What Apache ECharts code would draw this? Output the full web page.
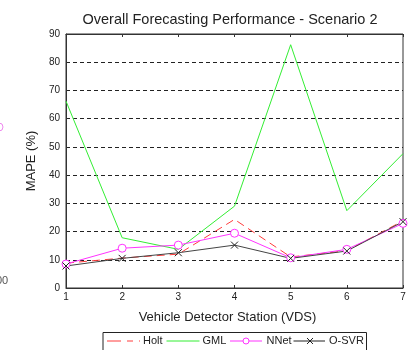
<!DOCTYPE html>
<html>
<head>
<meta charset="utf-8">
<script src="https://cdn.jsdelivr.net/npm/echarts@6/dist/echarts.min.js"></script>
<style>
  html, body { margin: 0; padding: 0; background: #fff; }
  #chart { width: 415px; height: 350px; }
</style>
</head>
<body>
<div id="chart"></div>
<script>
// Detector stations on the x axis
const stations = [1, 2, 3, 4, 5, 6, 7];
// MAPE (%) per forecasting method
const holt = [8.8, 10.6, 12.0, 24.3, 11.0, 13.2, 23.8];
const gml = [66.2, 17.8, 13.7, 29.0, 86.2, 27.4, 47.6];
const nnet = [8.5, 14.1, 15.2, 19.4, 10.7, 13.7, 22.9];
const osvr = [7.8, 10.5, 12.5, 15.2, 10.5, 13.1, 23.5];
const yTicks = [0, 10, 20, 30, 40, 50, 60, 70, 80, 90];

const pairs = arr => stations.map((s, i) => [s, arr[i]]);
const FONT = '"Liberation Sans", Arial, sans-serif';
const crossPath = 'path://M0,0L10,10M10,0L0,10';

const COLORS = { holt: '#ff3c3c', gml: '#33ee33', nnet: '#ff33ff', osvr: '#333' };

// Boxed legend drawn as graphic elements (line samples + markers + labels)
const LY = 341;
const legendGraphics = [
  { type: 'rect', shape: { x: 103, y: 332.5, width: 263.5, height: 30 },
    style: { fill: '#fff', stroke: '#222', lineWidth: 1 }, silent: true },
  // Holt
  { type: 'line', shape: { x1: 107, y1: LY, x2: 140, y2: LY },
    style: { stroke: COLORS.holt, lineWidth: 1, lineDash: [14, 6, 6, 6] }, silent: true },
  { type: 'text', x: 143, y: LY,
    style: { text: 'Holt', font: '11px ' + FONT, fill: '#222', textVerticalAlign: 'middle' }, silent: true },
  // GML
  { type: 'line', shape: { x1: 166.5, y1: LY, x2: 199.5, y2: LY },
    style: { stroke: COLORS.gml, lineWidth: 1 }, silent: true },
  { type: 'text', x: 202.5, y: LY,
    style: { text: 'GML', font: '11px ' + FONT, fill: '#222', textVerticalAlign: 'middle' }, silent: true },
  // NNet
  { type: 'line', shape: { x1: 230, y1: LY, x2: 262, y2: LY },
    style: { stroke: COLORS.nnet, lineWidth: 1 }, silent: true },
  { type: 'circle', shape: { cx: 246, cy: LY, r: 3 },
    style: { fill: '#fff', stroke: COLORS.nnet, lineWidth: 1 }, silent: true },
  { type: 'text', x: 266.5, y: LY,
    style: { text: 'NNet', font: '11px ' + FONT, fill: '#222', textVerticalAlign: 'middle' }, silent: true },
  // O-SVR
  { type: 'line', shape: { x1: 293.5, y1: LY, x2: 325, y2: LY },
    style: { stroke: '#222', lineWidth: 1 }, silent: true },
  { type: 'line', shape: { x1: 307, y1: LY - 3, x2: 313, y2: LY + 3 },
    style: { stroke: '#222', lineWidth: 1 }, silent: true },
  { type: 'line', shape: { x1: 313, y1: LY - 3, x2: 307, y2: LY + 3 },
    style: { stroke: '#222', lineWidth: 1 }, silent: true },
  { type: 'text', x: 329, y: LY,
    style: { text: 'O-SVR', font: '11px ' + FONT, fill: '#222', textVerticalAlign: 'middle' }, silent: true }
];

const chart = echarts.init(document.getElementById('chart'), null, { renderer: 'canvas' });
chart.setOption({
  animation: false,
  backgroundColor: '#fff',
  grid: {
    left: 66, right: 12, top: 34, bottom: 62,
    show: true, borderColor: '#333', borderWidth: 1, backgroundColor: 'transparent'
  },
  xAxis: [{
    type: 'value', min: 1, max: 7, interval: 1,
    name: 'Vehicle Detector Station (VDS)', nameLocation: 'middle', nameGap: 23,
    nameTextStyle: { fontFamily: FONT, fontSize: 13, color: '#222', padding: [0, 14, 0, 0] },
    axisLine: { show: true, lineStyle: { color: '#333', width: 1 } },
    axisTick: { show: true, inside: true, length: 3, lineStyle: { color: '#333' } },
    axisLabel: { fontFamily: FONT, fontSize: 10, color: '#222', margin: 4 },
    splitLine: { show: false }
  }, {
    type: 'value', min: 1, max: 7, interval: 1, position: 'top',
    axisLine: { show: true, lineStyle: { color: '#333', width: 1 } },
    axisTick: { show: true, inside: true, length: 3, lineStyle: { color: '#333' } },
    axisLabel: { show: false },
    splitLine: { show: false }
  }],
  yAxis: {
    type: 'value', min: yTicks[0], max: yTicks[yTicks.length - 1], interval: 10,
    name: 'MAPE (%)', nameLocation: 'middle', nameGap: 20, nameRotate: 90,
    nameTextStyle: { fontFamily: FONT, fontSize: 13, color: '#222' },
    axisLine: { show: true, lineStyle: { color: '#333', width: 1 } },
    axisTick: { show: false },
    axisLabel: { fontFamily: FONT, fontSize: 10, color: '#222', margin: 6 },
    splitLine: { show: true, lineStyle: { color: '#222', width: 1, type: [4, 3] } }
  },
  series: [{
    name: 'Holt', type: 'line', data: pairs(holt),
    symbol: 'none',
    lineStyle: { color: COLORS.holt, width: 1, type: [8, 5] }
  }, {
    name: 'GML', type: 'line', data: pairs(gml),
    symbol: 'none',
    lineStyle: { color: COLORS.gml, width: 1 }
  }, {
    name: 'NNet', type: 'line', data: pairs(nnet),
    symbol: 'circle', symbolSize: 8,
    lineStyle: { color: COLORS.nnet, width: 1 },
    itemStyle: { color: '#fff', borderColor: COLORS.nnet, borderWidth: 1 }
  }, {
    name: 'O-SVR', type: 'line', data: pairs(osvr),
    symbol: crossPath, symbolSize: 7,
    lineStyle: { color: '#444', width: 1 },
    itemStyle: { color: 'none', borderColor: '#222', borderWidth: 1 }
  }],
  graphic: [{
    type: 'text', x: 230, y: 20,
    style: { text: 'Overall Forecasting Performance - Scenario 2', font: '14.5px ' + FONT,
             fill: '#222', textAlign: 'center', textVerticalAlign: 'middle' }, silent: true
  }, {
    type: 'circle', shape: { cx: -1, cy: 127, r: 4 },
    style: { fill: 'none', stroke: '#ee88ee', lineWidth: 1 }, silent: true
  }, {
    type: 'text', x: -4, y: 281,
    style: { text: '00', font: '11px ' + FONT, fill: '#555', textVerticalAlign: 'middle' }, silent: true
  }].concat(legendGraphics)
});
</script>
</body>
</html>
